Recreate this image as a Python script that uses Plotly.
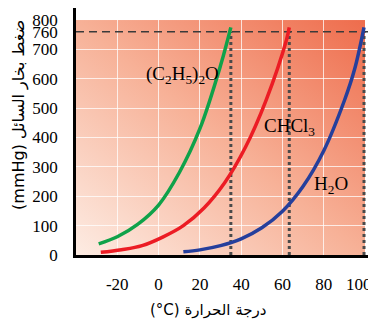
import base64
import plotly.graph_objects as go

# 乙醚 (C2H5)2O
ether_t = [-29, -20, -10, 0, 10, 20, 30, 35]
ether_p = [38, 62, 105, 170, 280, 430, 645, 775]

# 氯仿 CHCl3
chcl3_t = [-28, -18, -8, 2, 12, 22, 32, 42, 52, 62, 63.3]
chcl3_p = [9, 18, 32, 61, 100, 160, 246, 366, 526, 734, 775]

# 水 H2O
water_t = [12, 20, 30, 40, 50, 60, 70, 80, 90, 95, 99.5]
water_p = [11, 17.5, 31.8, 55, 92.5, 149, 234, 355, 526, 634, 775]

# 沸点（虚线竖线）
boil_t = [35, 63.3, 99.5]
atm_p = 760

x_ticks = [-20, 0, 20, 40, 60, 80, 97]
x_labels = ['-20', '0', '20', '40', '60', '80', '100']
y_ticks = [0, 100, 200, 300, 400, 500, 600, 700, 760, 800]
y_labels = ['0', '100', '200', '300', '400', '500', '600', '700', '760', '800']

serif = 'Liberation Serif'

fig = go.Figure()

# 沸点虚线
for t in boil_t:
    fig.add_trace(go.Scatter(
        x=[t, t], y=[0, atm_p], mode='lines',
        line=dict(color='#4a4a4a', width=3, dash='dot'),
        showlegend=False, hoverinfo='skip'
    ))

# 760 mmHg 水平虚线
fig.add_trace(go.Scatter(
    x=[-40, 105.3], y=[atm_p, atm_p], mode='lines',
    line=dict(color='#3a3a3a', width=1.6, dash='8px,5px'),
    showlegend=False, hoverinfo='skip'
))

# 三条蒸气压曲线
for xs, ys, c in [(ether_t, ether_p, '#0fa24a'),
                  (chcl3_t, chcl3_p, '#ec1c24'),
                  (water_t, water_p, '#253f9c')]:
    fig.add_trace(go.Scatter(
        x=xs, y=ys, mode='lines',
        line=dict(color=c, width=3.5, shape='spline', smoothing=1.0),
        showlegend=False
    ))

# 背景渐变（SVG）
svg = ('<svg xmlns="http://www.w3.org/2000/svg" width="300" height="240" '
       'viewBox="0 0 300 240" preserveAspectRatio="none">'
       '<defs><linearGradient id="g" x1="0" y1="1" x2="1" y2="0">'
       '<stop offset="0" stop-color="#fdece3"/>'
       '<stop offset="0.5" stop-color="#f7b197"/>'
       '<stop offset="1" stop-color="#ee6c4c"/>'
       '</linearGradient></defs>'
       '<rect width="300" height="240" fill="url(#g)"/></svg>')
src = 'data:image/svg+xml;base64,' + base64.b64encode(svg.encode()).decode()

fig.add_layout_image(dict(
    source=src, xref='x', yref='y', x=-40, y=800,
    sizex=140, sizey=800, sizing='stretch', layer='below',
    xanchor='left', yanchor='top'
))

# 曲线标签
lab_font = dict(family=serif, size=19, color='black')
fig.add_annotation(x=11.8, y=612, text='(C<sub>2</sub>H<sub>5</sub>)<sub>2</sub>O',
                   showarrow=False, font=lab_font)
fig.add_annotation(x=63.4, y=435, text='CHCl<sub>3</sub>', showarrow=False, font=lab_font)
fig.add_annotation(x=83.3, y=238, text='H<sub>2</sub>O', showarrow=False, font=lab_font)

# 坐标轴标题（阿拉伯语）
fig.add_annotation(xref='paper', yref='paper', x=0.44, y=-0.223,
                   xanchor='center', yanchor='middle',
                   text='(°C) درجة الحرارة', showarrow=False,
                   font=dict(family='DejaVu Sans', size=15, color='black'))
fig.add_annotation(xref='paper', yref='paper', x=-0.19, y=0.567,
                   xanchor='center', yanchor='middle',
                   text='(mmHg) ضغط بخار السائل', textangle=-90, showarrow=False,
                   font=dict(family='DejaVu Sans', size=16, color='black'))

# 页面 body 有 8px 边距，所以整体尺寸减 8
fig.update_layout(
    width=368, height=316,
    margin=dict(l=68, r=0, t=0, b=69),
    paper_bgcolor='white', plot_bgcolor='white',
    showlegend=False
)
fig.update_xaxes(
    range=[-40, 105.3], tickvals=x_ticks, ticktext=x_labels,
    showgrid=False, zeroline=False,
    showline=True, linecolor='black', linewidth=2.5,
    ticks='outside', ticklen=12, tickcolor='rgba(0,0,0,0)',
    tickfont=dict(family=serif, size=17, color='black'),
    minor=dict(tickmode='array', tickvals=[-20, 0, 20, 40, 60, 80],
               showgrid=True, gridcolor='rgba(255,255,255,0.75)', gridwidth=1, ticks='')
)
fig.update_yaxes(
    range=[0, 841], tickvals=y_ticks, ticktext=y_labels,
    showgrid=False, zeroline=False,
    showline=True, linecolor='black', linewidth=2.5,
    ticks='outside', ticklen=12, tickcolor='rgba(0,0,0,0)',
    tickfont=dict(family=serif, size=17, color='black'),
    minor=dict(tickmode='array', tickvals=[100, 200, 300, 400, 500, 600, 700],
               showgrid=True, gridcolor='rgba(255,255,255,0.75)', gridwidth=1, ticks='')
)

fig.write_html("out.html")
